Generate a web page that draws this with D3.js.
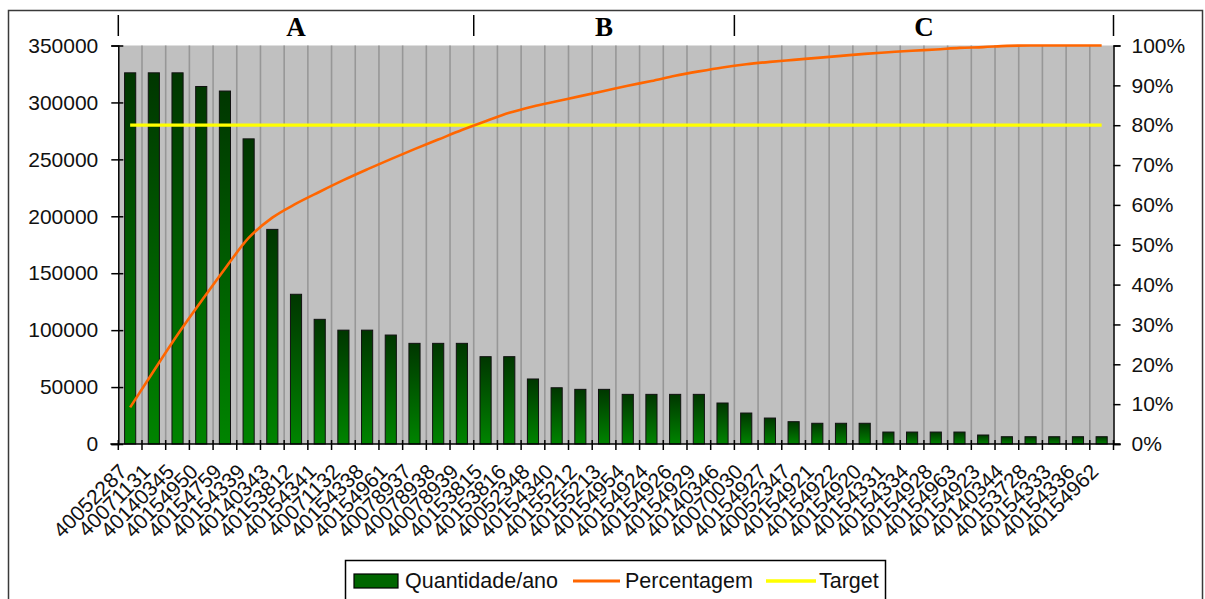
<!DOCTYPE html>
<html>
<head>
<meta charset="utf-8">
<script src="https://cdn.jsdelivr.net/npm/d3@7"></script>
<style>
  html, body { margin: 0; padding: 0; background: #fff; }
  svg { display: block; }
  text { font-family: "Liberation Sans", Arial, sans-serif; fill: #111; }
</style>
</head>
<body>
<svg id="chart" width="1205" height="599"></svg>
<script>
// ---------- data ----------
const categories = [
  "40052287","40071131","40140345","40154950","40154759","40154339","40140343",
  "40153812","40154341","40071132","40154338","40154961","40078937","40078938",
  "40078939","40153815","40153816","40052348","40154340","40155212","40155213",
  "40154954","40154924","40154926","40154929","40140346","40070030","40154927",
  "40052347","40154921","40154922","40154920","40154331","40154334","40154928",
  "40154963","40154923","40140344","40153728","40154333","40154336","40154962"
];
const quantidade = [
  326000, 326000, 326000, 314000, 310000, 268000, 188500,
  131500, 109500, 100000, 100000, 95700, 88400, 88400,
  88400, 76700, 76700, 57100, 49400, 48000, 48000,
  43600, 43600, 43600, 43600, 36000, 27200, 22800,
  19600, 18200, 18200, 18200, 10500, 10500, 10500,
  10500, 7900, 6400, 6400, 6400, 6400, 6400
];
const percentagem = [
  9.2, 18.4, 27.4, 35.8, 44.0, 51.7, 56.8, 60.3, 63.3, 66.2, 68.9, 71.5, 74.0, 76.4,
  78.8, 81.0, 83.1, 84.7, 86.0, 87.3, 88.6, 89.9, 91.1, 92.4, 93.5, 94.5, 95.3, 95.9,
  96.4, 96.9, 97.4, 97.9, 98.3, 98.7, 99.0, 99.4, 99.6, 99.9, 100, 100, 100, 100
];
const target = 80;
const groupLabels = ["A", "B", "C"];
const groupSizes = [15, 11, 16];
const leftTicks = [0, 50000, 100000, 150000, 200000, 250000, 300000, 350000];
const rightTicks = [0, 10, 20, 30, 40, 50, 60, 70, 80, 90, 100];
const legendLabels = ["Quantidade/ano", "Percentagem", "Target"];

// ---------- layout ----------
const svg = d3.select("#chart");
const L = 118.3, R = 1113.5, T = 45.5, B = 444;
const FONT = 21;

const x = d3.scaleBand().domain(categories).range([L, R])
  .paddingInner(0.53).paddingOuter(0.265);
const y = d3.scaleLinear().domain([0, 350000]).range([B, T]);
const y2 = d3.scaleLinear().domain([0, 100]).range([B, T]);
const step = x.step();
const boundary = i => L + i * step;
const cx = c => x(c) + x.bandwidth() / 2;

// outer frame
svg.append("rect").attr("x", 8.5).attr("y", 10.5).attr("width", 1194).attr("height", 620)
  .attr("fill", "#fff").attr("stroke", "#3a3a3a").attr("stroke-width", 1.5);

// gradient
const defs = svg.append("defs");
const grad = defs.append("linearGradient").attr("id", "barGrad")
  .attr("x1", 0).attr("y1", 0).attr("x2", 0).attr("y2", 1);
grad.append("stop").attr("offset", "0%").attr("stop-color", "#003600");
grad.append("stop").attr("offset", "100%").attr("stop-color", "#008400");

// plot background
svg.append("rect").attr("x", L).attr("y", T).attr("width", R - L).attr("height", B - T)
  .attr("fill", "#c0c0c0");

// vertical gridlines at category boundaries
svg.append("g").selectAll("line").data(d3.range(1, categories.length)).join("line")
  .attr("x1", i => boundary(i)).attr("x2", i => boundary(i))
  .attr("y1", T).attr("y2", B)
  .attr("stroke", "#979797").attr("stroke-width", 1.6);

// bars
svg.append("g").selectAll("rect").data(categories).join("rect")
  .attr("x", c => x(c))
  .attr("y", (c, i) => y(quantidade[i]))
  .attr("width", x.bandwidth())
  .attr("height", (c, i) => B - y(quantidade[i]))
  .attr("fill", "url(#barGrad)")
  .attr("stroke", "#111").attr("stroke-width", 1);

// target line
svg.append("path")
  .datum(categories)
  .attr("d", d3.line().x(c => cx(c)).y(() => y2(target)))
  .attr("fill", "none").attr("stroke", "#ffff00").attr("stroke-width", 3.2);

// percentage line
svg.append("path")
  .datum(categories)
  .attr("d", d3.line().x(c => cx(c)).y((c, i) => y2(percentagem[i])).curve(d3.curveMonotoneX))
  .attr("fill", "none").attr("stroke", "#ff6600").attr("stroke-width", 2.6);

// left axis
const gL = svg.append("g").attr("transform", `translate(${L},0)`)
  .call(d3.axisLeft(y).tickValues(leftTicks).tickFormat(d3.format("d")).tickSizeOuter(0).tickSize(7).tickPadding(13));
gL.select(".domain").attr("stroke", "#000").attr("stroke-width", 1.5);
gL.selectAll(".tick line").attr("x1", 5).attr("stroke", "#000").attr("stroke-width", 1.5);
gL.selectAll(".tick text").attr("font-size", FONT).attr("fill", "#111")
  .style("font-family", "'Liberation Sans', Arial, sans-serif");

// right axis
const gR = svg.append("g").attr("transform", `translate(${R},0)`)
  .call(d3.axisRight(y2).tickValues(rightTicks).tickFormat(d => d + "%").tickSizeOuter(0).tickSize(7).tickPadding(11));
gR.select(".domain").attr("stroke", "#000").attr("stroke-width", 1.5);
gR.selectAll(".tick line").attr("stroke", "#000").attr("stroke-width", 1.5);
gR.selectAll(".tick text").attr("font-size", FONT).attr("fill", "#111")
  .style("font-family", "'Liberation Sans', Arial, sans-serif");

// bottom axis line + crossing ticks
svg.append("line").attr("x1", L - 8).attr("x2", R + 7).attr("y1", B).attr("y2", B)
  .attr("stroke", "#000").attr("stroke-width", 1.5);
svg.append("g").selectAll("line").data(d3.range(0, categories.length + 1)).join("line")
  .attr("x1", i => boundary(i)).attr("x2", i => boundary(i))
  .attr("y1", B - 4).attr("y2", B + 6)
  .attr("stroke", "#000").attr("stroke-width", 1.5);

// category labels
const gB = svg.append("g").attr("transform", `translate(0,${B})`)
  .call(d3.axisBottom(x).tickSize(0).tickPadding(0));
gB.select(".domain").remove();
gB.selectAll(".tick text")
  .attr("font-size", FONT)
  .attr("text-anchor", "end")
  .attr("dy", null).attr("y", 0)
  .attr("transform", "translate(-2,29) rotate(-45)")
  .style("font-family", "'Liberation Sans', Arial, sans-serif");

// group band (A, B, C)
let acc = 0;
const bounds = [0];
groupSizes.forEach(s => { acc += s; bounds.push(acc); });
svg.append("g").selectAll("line").data(bounds).join("line")
  .attr("x1", i => boundary(i)).attr("x2", i => boundary(i))
  .attr("y1", 15).attr("y2", 36)
  .attr("stroke", "#000").attr("stroke-width", 1.5);
svg.append("g").selectAll("text").data(groupLabels).join("text")
  .attr("x", (g, i) => (boundary(bounds[i]) + boundary(bounds[i + 1])) / 2)
  .attr("y", 36)
  .attr("text-anchor", "middle")
  .attr("font-size", 27).attr("font-weight", "bold")
  .style("font-family", "'Liberation Serif', 'Times New Roman', serif")
  .style("fill", "#000")
  .text(g => g);

// legend
const lg = svg.append("g");
lg.append("rect").attr("x", 345.5).attr("y", 560.5).attr("width", 540).attr("height", 45)
  .attr("fill", "#fff").attr("stroke", "#000").attr("stroke-width", 1.5);
lg.append("rect").attr("x", 354).attr("y", 574).attr("width", 44).attr("height", 14)
  .attr("fill", "#006600").attr("stroke", "#000").attr("stroke-width", 1.2);
lg.append("line").attr("x1", 573).attr("x2", 620).attr("y1", 581).attr("y2", 581)
  .attr("stroke", "#ff6600").attr("stroke-width", 3);
lg.append("line").attr("x1", 766).attr("x2", 816).attr("y1", 581).attr("y2", 581)
  .attr("stroke", "#ffff00").attr("stroke-width", 3.5);
const legendX = [405, 625, 819];
lg.selectAll("text.lt").data(legendLabels).join("text").attr("class", "lt")
  .attr("x", (d, i) => legendX[i]).attr("y", 588)
  .attr("font-size", 21.5)
  .text(d => d);
</script>
</body>
</html>
